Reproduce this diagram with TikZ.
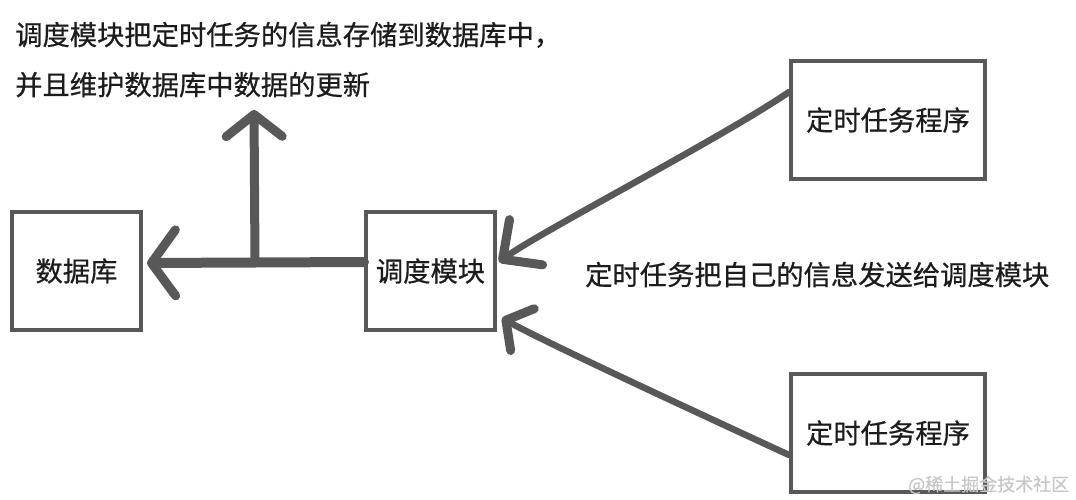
\documentclass[tikz,border=0pt]{standalone}
\usepackage{fontspec}
\setmainfont[FakeBold=0.6]{Noto Sans CJK SC}
\usepackage{tikz}
\usetikzlibrary{arrows.meta}
\definecolor{pen}{HTML}{585858}
\definecolor{ink}{HTML}{1C1C1C}

\begin{document}
\begin{tikzpicture}[x=1pt, y=-1pt,
      every node/.append style={font=\fontsize{27.3pt}{32pt}\selectfont, color=ink, inner sep=0pt},
      box/.style={draw=pen, line width=4pt, minimum width=129pt, minimum height=118pt}]
    \tikzstyle{penline} = [draw=pen, line cap=round, line join=round]
    \tikzstyle{word} = [anchor=base west]
    \useasboundingbox (0,0) rectangle (1076,500);
    % boxes
    \node [box] (db) at (76.5,271) {数据库};
    \node [box] (sched) at (430.5,271) {调度模块};
    \node [box, minimum width=194pt] (taskA) at (888,120) {定时任务程序};
    \node [box, minimum width=194pt] (taskB) at (888,433) {定时任务程序};
    % notes
    \node [word] (noteA) at (15,45) {调度模块把定时任务的信息存储到数据库中，};
    \node [word] (noteB) at (15,95) {并且维护数据库中数据的更新};
    \node [word] (send) at (585,285) {定时任务把自己的信息发送给调度模块};
    % connectors
    \coordinate (fork) at (255,262);
    \coordinate (up) at (254,110);
    \draw [penline, line width=10pt, -{Straight Barb[length=24pt,width=66pt,line width=9pt,round]}]
      ([yshift=9pt]sched.west) -- ([yshift=8pt,xshift=4pt]db.east);
    \draw [penline, line width=9pt, -{Straight Barb[length=22pt,width=56pt,line width=9pt,round]}]
      (fork) -- (up);
    \draw [penline, line width=6.5pt, -{Straight Barb[length=29pt,width=56pt,line width=9pt,round]}]
      ([yshift=28pt]taskA.west) .. controls (725,136) and (540,232) .. ([yshift=9pt,xshift=2pt]sched.east);
    \draw [penline, line width=6.5pt, -{Straight Barb[length=19pt,width=48pt,line width=9pt,round]}]
      ([yshift=-22pt]taskB.west) .. controls (735,430) and (548,344) .. ([yshift=-47pt,xshift=5pt]sched.east);
    % watermark
    \node [word, font=\fontsize{18pt}{20pt}\selectfont, color=black!22] (mark) at (908,491) {@稀土掘金技术社区};
\end{tikzpicture}
\end{document}
